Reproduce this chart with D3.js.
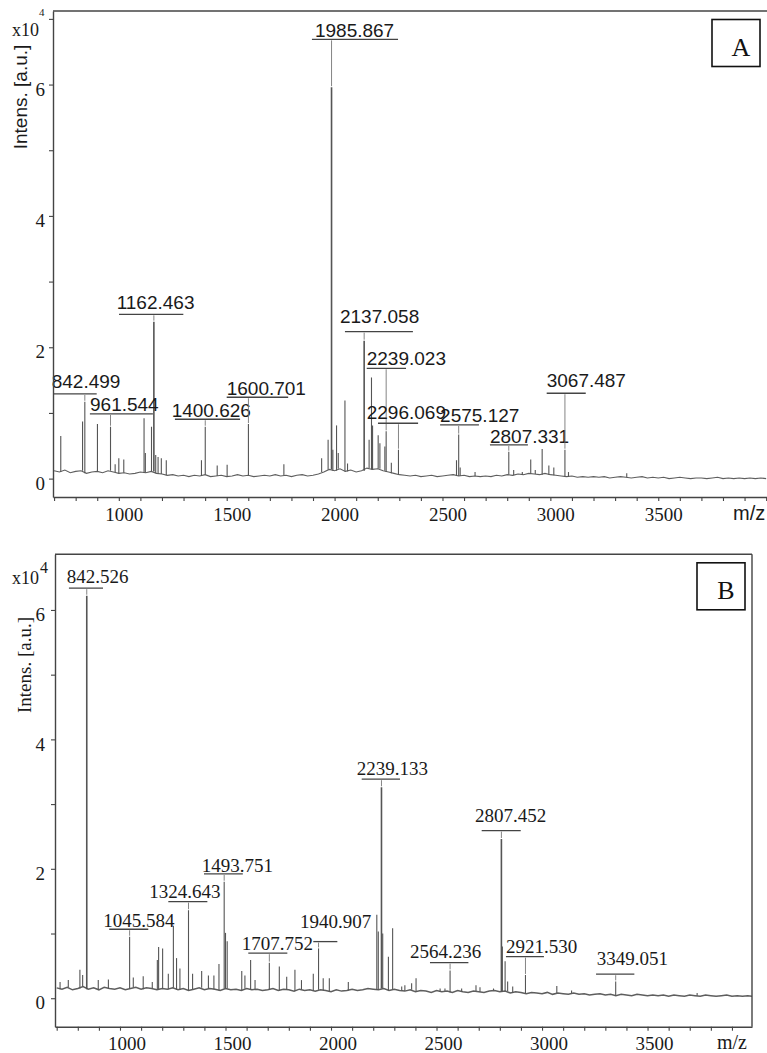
<!DOCTYPE html>
<html>
<head>
<meta charset="utf-8">
<script src="https://cdn.jsdelivr.net/npm/d3@7"></script>
<style>
body { margin: 0; background: #fff; }
</style>
</head>
<body>
<script>
var W = 767, H = 1053;

// shared axis ticks (m/z and intensity x10^4)
var xMinorTicks = d3.range(700, 4001, 100);
var xMajorTicks = [1000, 1500, 2000, 2500, 3000, 3500];
var yMajorTicks = [0, 2, 4, 6];

// baseline samples start at m/z 700, one every 25
var baseStart = 700, baseStep = 25;

// ---- panel A ----
var baseA = [
  0.12,0.10,0.13,0.09,0.11,0.12,0.08,0.10,0.11,0.09,0.12,0.10,0.08,0.09,0.07,0.08,0.10,0.09,0.11,0.08,
  0.07,0.05,0.06,0.04,0.05,0.03,0.05,0.04,0.06,0.03,0.04,0.05,0.03,0.04,0.06,0.04,0.05,0.03,0.04,0.05,
  0.04,0.06,0.04,0.05,0.03,0.05,0.06,0.04,0.05,0.07,0.10,0.14,0.12,0.15,0.11,0.13,0.10,0.12,0.16,0.14,
  0.15,0.12,0.10,0.08,0.06,0.05,0.04,0.05,0.03,0.04,0.05,0.03,0.04,0.05,0.06,0.04,0.05,0.03,0.04,0.03,
  0.04,0.03,0.05,0.04,0.06,0.05,0.07,0.06,0.08,0.07,0.06,0.08,0.06,0.05,0.04,0.03,0.04,0.02,0.03,0.02,
  0.03,0.02,0.03,0.01,0.02,0.03,0.02,0.01,0.02,0.03,0.01,0.02,0.01,0.02,0.00,0.01,0.02,0.01,0.00,0.01,
  0.01,0.00,0.01,0.02,0.00,0.01,0.00,0.01,0.00,0.01,0.00,0.01,0.00
];
var peakMzA = [731, 832, 842.499, 901, 961.544, 983, 1000, 1023, 1117, 1123, 1151.5, 1162.463, 1171, 1182, 1197, 1220,
  1383, 1400.626, 1456, 1502, 1600.701, 1765, 1940, 1970, 1985.867, 1992, 2009, 2017, 2048, 2060,
  2137.058, 2160, 2171, 2176, 2202, 2210, 2233, 2239.023, 2263, 2296.069, 2565, 2575.127, 2582, 2651,
  2807.331, 2830, 2870, 2909, 2930, 2962, 2993, 3016, 3067.487, 3084, 3354];
var peakIntA = [0.65, 0.87, 1.17, 0.83, 0.79, 0.22, 0.31, 0.29, 0.92, 0.39, 0.79, 2.39, 0.36, 0.33, 0.31, 0.28,
  0.28, 0.79, 0.20, 0.21, 0.83, 0.22, 0.31, 0.59, 5.96, 0.44, 0.81, 0.39, 1.19, 0.23,
  2.10, 0.59, 1.54, 0.81, 0.66, 0.54, 0.49, 0.72, 0.24, 0.44, 0.28, 0.67, 0.17, 0.10,
  0.41, 0.13, 0.10, 0.29, 0.13, 0.45, 0.20, 0.17, 0.44, 0.10, 0.08];
var labelMzA = [842.499, 961.544, 1162.463, 1400.626, 1600.701, 1985.867, 2137.058, 2239.023, 2296.069, 2575.127, 2807.331, 3067.487];
var labelTextFromA = [689, 866.5, 990, 1245, 1500, 1909, 2025, 2149, 2149, 2489, 2720, 2983];
var labelTextIA = [1.376, 1.03, 2.578, 0.944, 1.274, 6.728, 2.374, 1.731, 0.904, 0.868, 0.545, 1.40];
var labelBarFromA = [695, 866, 1001, 1260, 1500, 1895, 2048, 2149, 2201, 2489, 2720, 2983];
var labelBarToA = [897.5, 1158, 1299, 1562, 1785, 2294, 2363, 2331, 2387, 2669, 2896, 3164];
var labelBarIA = [1.289, 0.985, 2.502, 0.904, 1.239, 6.688, 2.237, 1.680, 0.843, 0.817, 0.513, 1.300];

// ---- panel B ----
var baseB = [
  0.16,0.14,0.17,0.13,0.15,0.18,0.14,0.16,0.13,0.17,0.15,0.14,0.16,0.13,0.15,0.17,0.14,0.16,0.15,0.13,
  0.15,0.14,0.16,0.13,0.15,0.12,0.14,0.16,0.13,0.15,0.14,0.12,0.15,0.13,0.14,0.12,0.15,0.13,0.14,0.12,
  0.13,0.15,0.12,0.14,0.13,0.11,0.14,0.12,0.13,0.11,0.13,0.12,0.10,0.13,0.11,0.12,0.14,0.12,0.13,0.15,
  0.14,0.13,0.15,0.12,0.14,0.12,0.11,0.13,0.10,0.12,0.11,0.09,0.12,0.10,0.11,0.09,0.12,0.10,0.09,0.11,
  0.10,0.09,0.11,0.12,0.10,0.11,0.08,0.10,0.09,0.07,0.09,0.08,0.07,0.09,0.06,0.08,0.07,0.06,0.08,0.06,
  0.07,0.05,0.06,0.07,0.05,0.06,0.04,0.06,0.05,0.04,0.06,0.05,0.04,0.05,0.04,0.05,0.03,0.05,0.04,0.03,
  0.05,0.04,0.03,0.05,0.04,0.03,0.04,0.05,0.03,0.04,0.03,0.04,0.03
];
var peakMzB = [716, 755, 810, 823, 842.526, 897, 945, 1045.584, 1063, 1110, 1153, 1177, 1183, 1202, 1229, 1253, 1268, 1284,
  1324.643, 1344, 1387, 1419, 1445, 1469, 1493.751, 1500, 1508, 1577, 1592, 1619, 1640, 1707.752, 1755, 1790, 1829,
  1860, 1916, 1940.907, 1963, 1992, 2082, 2217, 2224, 2239.133, 2245, 2272, 2292, 2335, 2350, 2382, 2403, 2517, 2540,
  2564.236, 2619, 2687, 2706, 2770, 2807.452, 2812, 2825, 2837, 2861, 2921.530, 3070, 3140, 3349.051, 3735];
var peakIntB = [0.25, 0.28, 0.44, 0.36, 6.22, 0.28, 0.29, 0.95, 0.32, 0.34, 0.25, 0.59, 0.79, 0.77, 0.38, 1.12, 0.62, 0.46,
  1.36, 0.38, 0.42, 0.35, 0.35, 0.53, 1.80, 1.01, 0.88, 0.42, 0.35, 0.59, 0.28, 0.55, 0.49, 0.33, 0.44,
  0.28, 0.38, 0.77, 0.31, 0.31, 0.25, 1.29, 1.03, 3.26, 1.00, 0.64, 1.08, 0.18, 0.20, 0.23, 0.31, 0.15, 0.15,
  0.43, 0.15, 0.20, 0.17, 0.15, 2.46, 0.80, 0.57, 0.26, 0.18, 0.36, 0.19, 0.12, 0.26, 0.08];
var labelMzB = [842.526, 1045.584, 1324.643, 1493.751, 1707.752, 1940.907, 2239.133, 2564.236, 2807.452, 2921.530, 3349.051];
var labelTextFromB = [747.5, 921, 1139, 1387, 1577, 1853, 2122, 2374, 2682.5, 2829, 3259];
var labelTextIB = [6.414, 1.107, 1.546, 1.957, 0.745, 1.082, 3.451, 0.618, 2.729, 0.696, 0.515];
var labelBarFromB = [758, 949, 1229, 1398, 1608, 1916, 2145.5, 2469, 2714, 2829, 3256];
var labelBarToB = [919.5, 1134, 1414, 1582, 1793, 2030, 2327, 2651, 2899, 3009, 3437.5];
var labelBarIB = [6.337, 1.066, 1.493, 1.921, 0.696, 0.875, 3.385, 0.550, 2.590, 0.643, 0.371];

var SANS = "'Liberation Sans', Arial, sans-serif";
var SERIF = "'Liberation Serif', 'Times New Roman', serif";

var svg = d3.select("body").append("svg")
  .attr("width", W)
  .attr("height", H)
  .style("display", "block");

function drawPanel(p) {
  var x = d3.scaleLinear().domain(p.xDomain).range([p.left, p.right]);
  var y = d3.scaleLinear().domain(p.yDomain).range([p.bottom, p.top]);
  var g = svg.append("g");

  var clipId = "clip" + p.name;
  svg.append("clipPath").attr("id", clipId)
    .append("rect")
    .attr("x", p.left).attr("y", p.top)
    .attr("width", p.right - p.left).attr("height", p.bottom - p.top);

  var plot = g.append("g").attr("clip-path", "url(#" + clipId + ")");

  function baseAt(mz) {
    var i = Math.round((mz - baseStart) / baseStep);
    i = Math.max(0, Math.min(p.base.length - 1, i));
    return p.base[i];
  }

  //baseline trace
  var basePts = p.base.map(function(v, i) { return [baseStart + i * baseStep, v]; });
  plot.append("path")
    .datum(basePts)
    .attr("d", d3.line().x(function(d) { return x(d[0]); }).y(function(d) { return y(d[1]); }))
    .attr("fill", "none")
    .attr("stroke", "#5e5e5e")
    .attr("stroke-width", p.baseWidth);

  //peaks as sticks
  var peaks = p.peakMz.map(function(m, i) { return { mz: m, v: p.peakInt[i] }; });
  plot.selectAll("line.peak")
    .data(peaks)
    .enter()
    .append("line")
    .attr("class", "peak")
    .attr("x1", function(d) { return x(d.mz); })
    .attr("x2", function(d) { return x(d.mz); })
    .attr("y1", function(d) { return y(baseAt(d.mz)); })
    .attr("y2", function(d) { return y(d.v); })
    .attr("stroke", "#555")
    .attr("stroke-width", function(d) { return d.v > 2 ? 1.6 : 1.1; });

  //peak annotations
  var labels = p.labelMz.map(function(m, i) {
    var pk = peaks.filter(function(q) { return Math.abs(q.mz - m) < 0.01; })[0];
    return { mz: m, top: pk ? pk.v : 0, textFrom: p.labelTextFrom[i], textI: p.labelTextI[i],
             barFrom: p.labelBarFrom[i], barTo: p.labelBarTo[i], barI: p.labelBarI[i] };
  });
  var ann = g.selectAll("g.ann").data(labels).enter().append("g").attr("class", "ann");
  ann.append("line")
    .attr("x1", function(d) { return x(d.mz); })
    .attr("x2", function(d) { return x(d.mz); })
    .attr("y1", function(d) { return y(d.barI) + 1; })
    .attr("y2", function(d) { return y(d.top) - 1; })
    .attr("stroke", "#777")
    .attr("stroke-width", 0.9);
  ann.append("line")
    .attr("x1", function(d) { return Math.max(p.left, x(d.barFrom)); })
    .attr("x2", function(d) { return x(d.barTo); })
    .attr("y1", function(d) { return y(d.barI); })
    .attr("y2", function(d) { return y(d.barI); })
    .attr("stroke", "#444")
    .attr("stroke-width", 1.3);
  ann.append("text")
    .attr("x", function(d) { return x(d.textFrom); })
    .attr("y", function(d) { return y(d.textI); })
    .style("font-family", p.labelFont)
    .style("font-size", "19px")
    .attr("fill", "#1a1a1a")
    .text(function(d) { return d3.format(".3f")(d.mz); });

  //x axis
  var xAxis = d3.axisBottom(x)
    .tickValues(xMinorTicks.filter(function(t) { return t >= p.xDomain[0] && t <= p.xDomain[1]; }))
    .tickSize(4)
    .tickSizeOuter(0)
    .tickFormat(function(d) { return xMajorTicks.indexOf(d) >= 0 ? d : ""; });
  var gx = g.append("g").attr("transform", "translate(0," + p.bottom + ")").call(xAxis);
  gx.select(".domain").attr("stroke", "#444").attr("stroke-width", 1.4);
  gx.selectAll(".tick line").attr("stroke", "#444").attr("stroke-width", 1.1);
  gx.selectAll(".tick text")
    .attr("y", 23.5)
    .attr("dy", 0)
    .attr("dx", p.tickDx)
    .attr("fill", "#1a1a1a")
    .style("font-family", SERIF)
    .style("font-size", "19px");

  //y axis
  var yTicks = d3.range(0, 8).filter(function(t) { return t <= p.yDomain[1]; });
  var yAxis = d3.axisLeft(y)
    .tickValues(yTicks)
    .tickSize(4)
    .tickSizeOuter(0)
    .tickFormat(function(d) { return yMajorTicks.indexOf(d) >= 0 ? d : ""; });
  var gy = g.append("g").attr("transform", "translate(" + p.left + ",0)").call(yAxis);
  gy.select(".domain").attr("stroke", "#444").attr("stroke-width", 1.4);
  gy.selectAll(".tick line").attr("stroke", "#444").attr("stroke-width", 1.1);
  gy.selectAll(".tick text")
    .attr("x", p.yLabelX)
    .attr("y", 4)
    .attr("dy", "0.35em")
    .attr("fill", "#1a1a1a")
    .style("font-family", SERIF)
    .style("font-size", "19px");

  //frame
  g.append("line")
    .attr("x1", p.left).attr("x2", p.right)
    .attr("y1", p.top).attr("y2", p.top)
    .attr("stroke", "#444").attr("stroke-width", 1.6);
  if (p.rightBorder) {
    g.append("line")
      .attr("x1", p.right).attr("x2", p.right)
      .attr("y1", p.top).attr("y2", p.bottom)
      .attr("stroke", "#444").attr("stroke-width", 1.4);
  }

  //axis titles
  g.append("text")
    .attr("transform", "translate(" + p.yTitleX + "," + p.yTitleY + ") rotate(-90)")
    .attr("text-anchor", "middle")
    .style("font-family", p.titleFont)
    .style("font-size", p.yTitleSize)
    .attr("fill", "#1a1a1a")
    .text("Intens. [a.u.]");
  g.append("text")
    .attr("x", 12).attr("y", p.x10Y)
    .style("font-family", SERIF)
    .style("font-size", "18px")
    .attr("fill", "#1a1a1a")
    .text("x10");
  g.append("text")
    .attr("x", p.expX).attr("y", p.expY)
    .style("font-family", SERIF)
    .style("font-size", p.expSize)
    .attr("fill", "#1a1a1a")
    .text("4");
  g.append("text")
    .attr("x", p.right - p.mzOffset).attr("y", p.bottom + 22.5)
    .style("font-family", p.titleFont)
    .style("font-size", "20px")
    .attr("fill", "#1a1a1a")
    .text("m/z");

  //panel letter box
  var bx = p.boxRight - 48, by = p.top + 8.5;
  g.append("rect")
    .attr("x", bx).attr("y", by)
    .attr("width", 48).attr("height", 47)
    .attr("fill", "none")
    .attr("stroke", "#111")
    .attr("stroke-width", 1.6);
  g.append("text")
    .attr("x", bx + 29).attr("y", by + 36.3)
    .attr("text-anchor", "middle")
    .style("font-family", SERIF)
    .style("font-size", "26px")
    .attr("fill", "#111")
    .text(p.name);
}

drawPanel({
  name: "A",
  left: 53, right: 767, top: 11, bottom: 497,
  xDomain: [695, 4004], yDomain: [-0.28, 7.12],
  base: baseA, baseWidth: 1.1,
  peakMz: peakMzA, peakInt: peakIntA,
  labelMz: labelMzA, labelTextFrom: labelTextFromA, labelTextI: labelTextIA,
  labelBarFrom: labelBarFromA, labelBarTo: labelBarToA, labelBarI: labelBarIA,
  labelFont: SANS, titleFont: SANS,
  tickDx: 5, yLabelX: -8,
  yTitleX: 27, yTitleY: 97, yTitleSize: "19px",
  x10Y: 36, expX: 39, expY: 16, expSize: "11px",
  mzOffset: 34, rightBorder: false, boxRight: 760
});

drawPanel({
  name: "B",
  left: 55, right: 752, top: 554.3, bottom: 1026.7,
  xDomain: [692, 3995], yDomain: [-0.44, 6.86],
  base: baseB, baseWidth: 1.5,
  peakMz: peakMzB, peakInt: peakIntB,
  labelMz: labelMzB, labelTextFrom: labelTextFromB, labelTextI: labelTextIB,
  labelBarFrom: labelBarFromB, labelBarTo: labelBarToB, labelBarI: labelBarIB,
  labelFont: SERIF, titleFont: SERIF,
  tickDx: 6.5, yLabelX: -10,
  yTitleX: 31, yTitleY: 665, yTitleSize: "19px",
  x10Y: 584, expX: 40, expY: 573, expSize: "16px",
  mzOffset: 35, rightBorder: true, boxRight: 745
});
</script>
</body>
</html>
